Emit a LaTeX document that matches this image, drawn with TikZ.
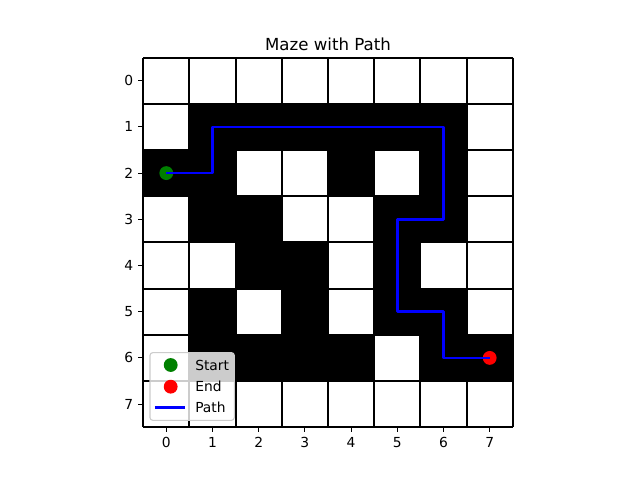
\documentclass[tikz,border=0pt]{standalone}
\usepackage{fontspec}
\setmainfont{DejaVu Sans}
\usetikzlibrary{positioning}
\definecolor{mplgreen}{HTML}{008000}
\definecolor{mplred}{HTML}{FF0000}
\definecolor{mplblue}{HTML}{0000FF}

\begin{document}
\begin{tikzpicture}[
    x=0.462in, y=-0.462in,
    open cell/.style={fill=white},
    wall/.style={fill=black},
    grid line/.style={line width=1.5pt, black},
    tick mark/.style={line width=0.8pt, black},
    tick label/.style={font=\normalsize, inner sep=0pt},
    marker/.style={circle, inner sep=0pt, minimum size=10pt},
    start marker/.style={marker, fill=mplgreen},
    end marker/.style={marker, fill=mplred},
    path line/.style={line width=2pt, mplblue, line join=round},
    legend frame/.style={rounded corners=2pt, fill=white, fill opacity=0.8, draw=black!20, line width=0.8pt},
    legend text/.style={anchor=west, inner sep=0pt, font=\normalsize}
]
    \useasboundingbox ({-166.3/46.2},{-80.7/46.2}) rectangle ({473.7/46.2},{399.3/46.2});

    % Cells
    \fill[wall] (-0.5,-0.5) rectangle (7.5,7.5);
    \foreach \r/\cols in {0/{0,1,2,3,4,5,6,7}, 1/{0,7}, 2/{2,3,5,7}, 3/{0,3,4,7},
                          4/{0,1,4,6,7}, 5/{0,2,4,7}, 6/{0,5}, 7/{0,1,2,3,4,5,6,7}}
        \foreach \c in \cols
            \fill[open cell] (\c-0.5,\r-0.5) rectangle (\c+0.5,\r+0.5);

    % Grid
    \foreach \i in {0,...,8} {
        \draw[grid line] (\i-0.5,-0.5) -- (\i-0.5,7.5);
        \draw[grid line] (-0.5,\i-0.5) -- (7.5,\i-0.5);
    }

    % Nodes
    \node[start marker] (start) at (0,2) {};
    \node[end marker] (goal) at (7,6) {};

    % Path
    \draw[path line] (start.center) -- (1,2) -- (1,1) -- (6,1) -- (6,3) -- (5,3)
        -- (5,5) -- (6,5) -- (6,6) -- (goal.center);

    % Legend
    \draw[legend frame] (-0.353,5.887) rectangle (1.472,7.351);
    \node[start marker] (key start) at (0.095,6.154) {};
    \node[end marker] (key end) at (0.095,6.623) {};
    \coordinate (key path a) at (-0.245,7.069);
    \coordinate (key path b) at (0.405,7.069);
    \draw[path line] (key path a) -- (key path b);
    \node[legend text] (label start) at (0.621,6.154) {Start};
    \node[legend text] (label end) at (0.621,6.623) {End};
    \node[legend text] (label path) at (0.621,7.069) {Path};

    % Axes
    \foreach \i in {0,...,7} {
        \draw[tick mark] (\i,7.5) -- ++(0,-3.5pt);
        \node[tick label, anchor=north] (xtick\i) at (\i,7.5) [yshift=-7pt] {\i};
        \draw[tick mark] (-0.5,\i) -- ++(-3.5pt,0);
        \node[tick label, anchor=east] (ytick\i) at (-0.5,\i) [xshift=-7pt] {\i};
    }
    \draw[tick mark] (-0.5,-0.5) rectangle (7.5,7.5);

    % Title
    \node[font=\large, anchor=base] (title) at (3.5,-0.65) {Maze with Path};
\end{tikzpicture}
\end{document}
